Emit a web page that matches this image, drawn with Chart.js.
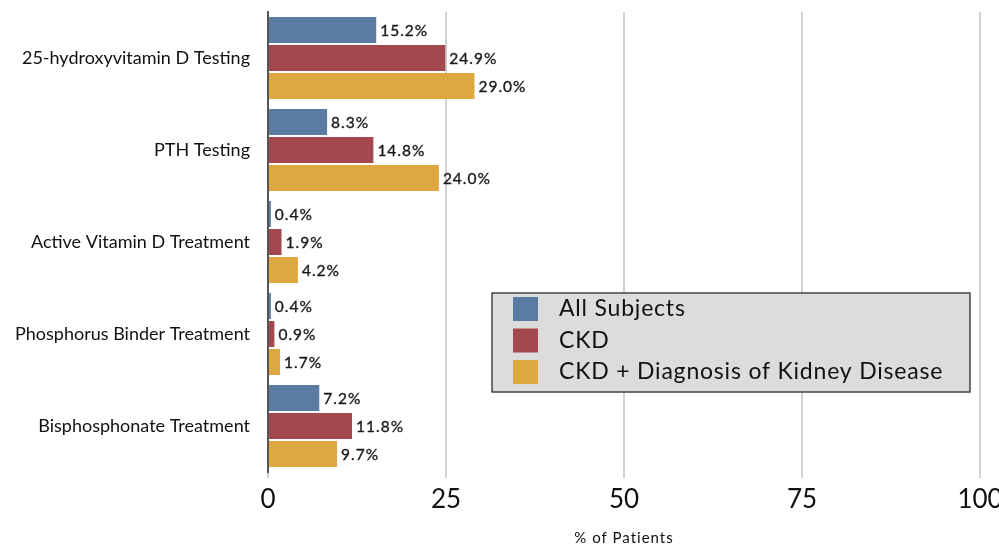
<!DOCTYPE html>
<html>
<head>
<meta charset="utf-8">
<script src="https://cdn.jsdelivr.net/npm/chart.js@4/dist/chart.umd.min.js"></script>
<style>
  html, body { margin: 0; padding: 0; background: #ffffff; }
  #wrap { width: 999px; height: 548px; position: relative; }
</style>
</head>
<body>
<div id="wrap"><canvas id="chart" width="999" height="548"></canvas></div>
<script>
// Categories (y axis) and series values (% of patients)
const categories = [
  '25-hydroxyvitamin D Testing',
  'PTH Testing',
  'Active Vitamin D Treatment',
  'Phosphorus Binder Treatment',
  'Bisphosphonate Treatment'
];
const seriesNames = ['All Subjects', 'CKD', 'CKD + Diagnosis of Kidney Disease'];
const allSubjects = [15.2, 8.3, 0.4, 0.4, 7.2];
const ckd = [24.9, 14.8, 1.9, 0.9, 11.8];
const ckdDiagnosis = [29.0, 24.0, 4.2, 1.7, 9.7];
const xTicks = [0, 25, 50, 75, 100];
const axisTitle = '% of Patients';

const seriesColors = ['#5b7ba3', '#a3484f', '#dca83f'];
const FONT = 'Lato, "Open Sans", sans-serif';
const NARROW = '"Liberation Sans Narrow", "Arial Narrow", Lato, sans-serif';

// Value labels at the end of each bar
const valueLabels = {
  id: 'valueLabels',
  afterDatasetsDraw(chart) {
    const ctx = chart.ctx;
    ctx.save();
    ctx.font = '15.5px ' + FONT;
    if ('letterSpacing' in ctx) ctx.letterSpacing = '1px';
    ctx.fillStyle = '#1a1a1a';
    ctx.strokeStyle = '#1a1a1a';
    ctx.lineWidth = 0.35;
    ctx.textAlign = 'left';
    ctx.textBaseline = 'middle';
    chart.data.datasets.forEach((ds, i) => {
      chart.getDatasetMeta(i).data.forEach((bar, j) => {
        const t = ds.data[j].toFixed(1) + '%';
        ctx.fillText(t, bar.x + 4, bar.y + 1);
        ctx.strokeText(t, bar.x + 4, bar.y + 1);
      });
    });
    ctx.restore();
  }
};

// Boxed legend drawn inside the plot area
const boxLegend = {
  id: 'boxLegend',
  afterDraw(chart) {
    const ctx = chart.ctx;
    const a = chart.chartArea;
    const x0 = a.left + 224, y0 = a.top + 281, w = 478, h = 99;
    ctx.save();
    ctx.fillStyle = '#dcdcdc';
    ctx.fillRect(x0, y0, w, h);
    ctx.strokeStyle = '#444';
    ctx.lineWidth = 1.5;
    ctx.strokeRect(x0, y0, w, h);
    ctx.font = '23px ' + FONT;
    if ('letterSpacing' in ctx) ctx.letterSpacing = '0.8px';
    ctx.textBaseline = 'middle';
    ctx.textAlign = 'left';
    chart.data.datasets.forEach((ds, i) => {
      const cy = y0 + 16 + i * 31.5;
      ctx.fillStyle = ds.backgroundColor;
      ctx.fillRect(x0 + 21, cy - 12, 25, 24);
      ctx.fillStyle = '#111';
      ctx.fillText(ds.label, x0 + 67, cy);
    });
    ctx.restore();
  }
};

// Axis title drawn with a little tracking
const xTitle = {
  id: 'xTitle',
  afterDraw(chart) {
    const ctx = chart.ctx;
    const a = chart.chartArea;
    ctx.save();
    ctx.font = '15px ' + FONT;
    if ('letterSpacing' in ctx) ctx.letterSpacing = '1px';
    ctx.fillStyle = '#111';
    ctx.textAlign = 'center';
    ctx.textBaseline = 'middle';
    ctx.fillText(axisTitle, (a.left + a.right) / 2, chart.height - 10);
    ctx.restore();
  }
};

new Chart(document.getElementById('chart'), {
  type: 'bar',
  data: {
    labels: categories,
    datasets: [
      { label: seriesNames[0], data: allSubjects, backgroundColor: seriesColors[0] },
      { label: seriesNames[1], data: ckd, backgroundColor: seriesColors[1] },
      { label: seriesNames[2], data: ckdDiagnosis, backgroundColor: seriesColors[2] }
    ]
  },
  options: {
    indexAxis: 'y',
    responsive: false,
    animation: false,
    devicePixelRatio: 1,
    layout: { padding: { top: 12, right: 19, left: 0, bottom: 0 } },
    datasets: { bar: { barPercentage: 0.93, categoryPercentage: 0.913 } },
    plugins: {
      legend: { display: false },
      tooltip: { enabled: false }
    },
    scales: {
      x: {
        min: 0,
        max: 100,
        afterBuildTicks(scale) { scale.ticks = xTicks.map(v => ({ value: v })); },
        afterFit(scale) {
          scale.height = 76;
          scale.paddingLeft = 0;
          scale.paddingRight = 0;
        },
        ticks: {
          font: { family: NARROW, size: 26 },
          color: '#111',
          padding: 6,
          maxRotation: 0
        },
        grid: {
          color: '#d2d2d2',
          lineWidth: 2,
          tickLength: 6,
          drawOnChartArea: true
        },
        border: { display: false },
        title: { display: false }
      },
      y: {
        afterFit(scale) {
          scale.width = 268;
          scale.paddingTop = 0;
          scale.paddingBottom = 0;
        },
        ticks: {
          font: { family: FONT, size: 18 },
          color: '#111',
          padding: 10
        },
        grid: { display: false },
        border: { display: true, color: '#555', width: 2 }
      }
    }
  },
  plugins: [valueLabels, boxLegend, xTitle]
});
</script>
</body>
</html>
